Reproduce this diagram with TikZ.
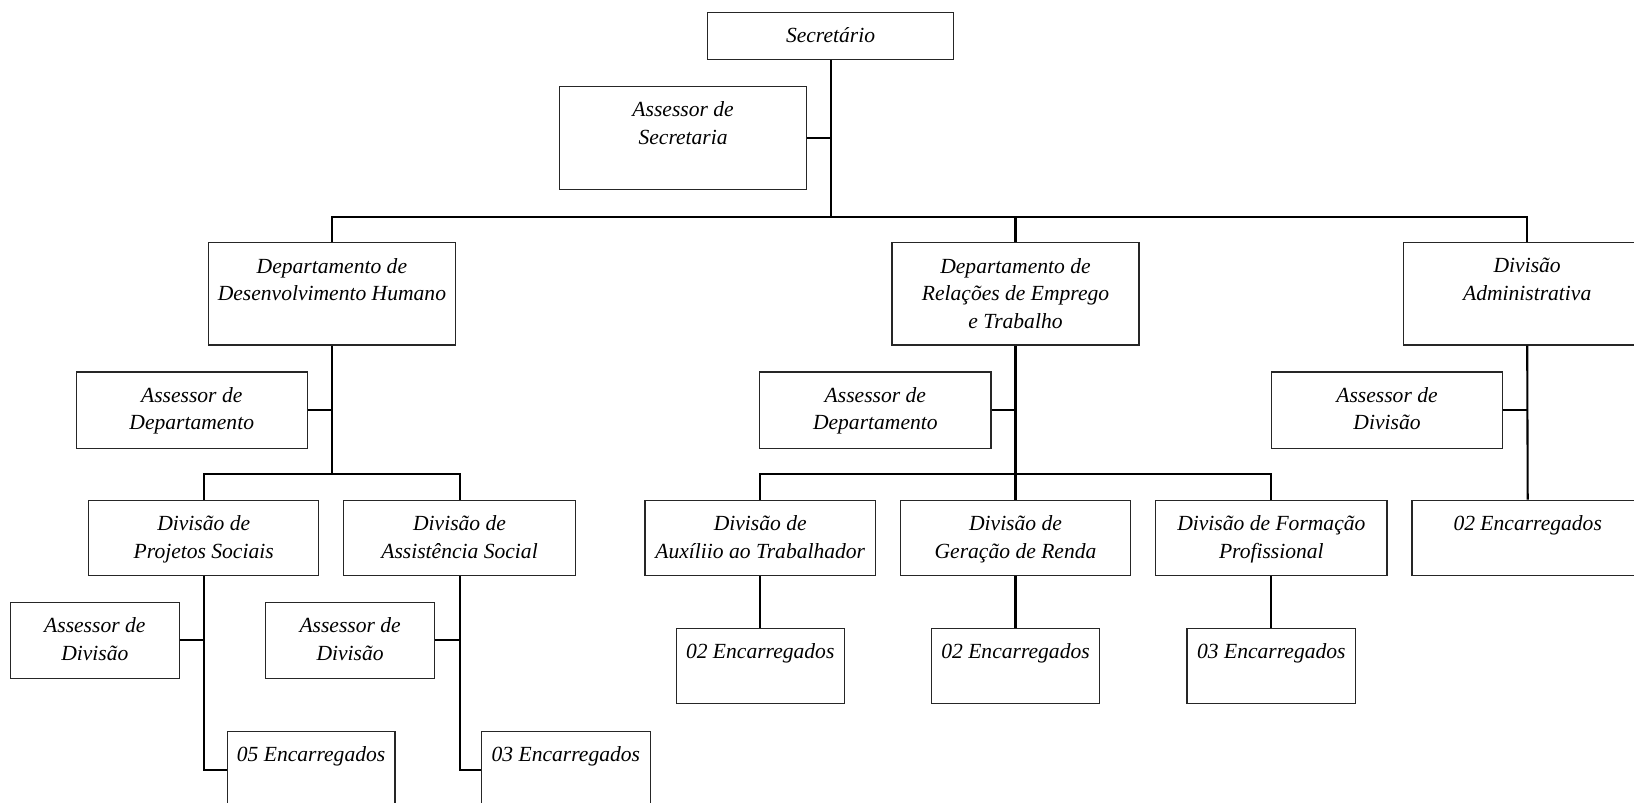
\documentclass[tikz,border=0pt]{standalone}
\usepackage{fontspec}
\setmainfont{Liberation Serif}
\begin{document}
\begin{tikzpicture}[x=1pt,y=1pt,
  box/.style={draw=black!85, line width=1.1pt, rectangle, inner sep=0pt},
  conn/.style={draw=black, line width=2pt},
  lab/.style={anchor=north, yshift=-15pt, align=center, inner sep=0pt, font=\fontsize{20.7}{26.5}\selectfont\itshape}
]
\useasboundingbox (0,0) rectangle (1568,-770);
\clip (0,0) rectangle (1568,-770);
\newcommand\bx[6]{\node[box, minimum width=#4pt, minimum height=#5pt, label={[lab]north:{#6}}] (#1) at (#2,-#3) {};}
% level 0
\bx{sec}{797}{34.5}{236}{45}{Secretário}
\bx{asec}{655.5}{132.5}{237}{99}{Assessor de\\Secretaria}
% level 1
\bx{ddh}{318.5}{282}{237}{98}{Departamento de\\Desenvolvimento Humano}
\bx{dret}{974.5}{282}{237}{98}{Departamento de\\Relações de Emprego\\e Trabalho}
\bx{da}{1465.5}{282}{237}{98}{Divisão\\Administrativa}
% assessors of level 1
\bx{addh}{184}{393.5}{222}{73}{Assessor de\\Departamento}
\bx{adret}{840}{393.5}{222}{73}{Assessor de\\Departamento}
\bx{ada}{1331}{393.5}{222}{73}{Assessor de\\Divisão}
% level 2
\bx{dps}{195.5}{516}{221}{72}{Divisão de\\Projetos Sociais}
\bx{das}{441}{516}{222}{72}{Divisão de\\Assistência Social}
\bx{dat}{729.5}{516}{221}{72}{Divisão de\\Auxíliio ao Trabalhador}
\bx{dgr}{974.5}{516}{221}{72}{Divisão de\\Geração de Renda}
\bx{dfp}{1220}{516}{222}{72}{Divisão de Formação\\Profissional}
\bx{daenc}{1466}{516}{222}{72}{02 Encarregados}
% assessors of level 2
\bx{adps}{91}{614.5}{162}{73}{Assessor de\\Divisão}
\bx{adas}{336}{614.5}{162}{73}{Assessor de\\Divisão}
% encarregados
\bx{e05}{298.5}{738.5}{161}{73}{05 Encarregados}
\bx{e03}{543}{738.5}{162}{73}{03 Encarregados}
\bx{e1}{729.5}{639}{161}{72}{02 Encarregados}
\bx{e2}{974.5}{639}{161}{72}{02 Encarregados}
\bx{e3}{1220}{639}{162}{72}{03 Encarregados}
% junction coordinates
\coordinate (bus0) at (797,-208);
\coordinate (bus1) at (0,-455);
% connectors level 0
\draw[conn] (sec.south) -- (bus0);
\draw[conn] (asec.east) -- (asec.east -| sec.south);
\draw[conn] (ddh.north) |- (bus0) -| (da.north);
\draw[conn] (dret.north) -- (dret.north |- bus0);
% DDH
\draw[conn] (ddh.south) -- (ddh.south |- bus1);
\draw[conn] (addh.east) -- (addh.east -| ddh.south);
\draw[conn] (dps.north) |- (ddh.south |- bus1) -| (das.north);
\draw[conn] (dps.south) |- (e05.west);
\draw[conn] (adps.east) -- (adps.east -| dps.south);
\draw[conn] (das.south) |- (e03.west);
\draw[conn] (adas.east) -- (adas.east -| das.south);
% DRET
\draw[conn] (dret.south) -- (dret.south |- bus1);
\draw[conn] (adret.east) -- (adret.east -| dret.south);
\draw[conn] (dat.north) |- (dret.south |- bus1) -| (dfp.north);
\draw[conn] (dgr.north) -- (dgr.north |- bus1);
\draw[conn] (dat.south) -- (e1.north);
\draw[conn] (dgr.south) -- (e2.north);
\draw[conn] (dfp.south) -- (e3.north);
% DA
\draw[conn] (da.south) -- (daenc.north);
\draw[conn] (ada.east) -- (ada.east -| da.south);
\end{tikzpicture}
\end{document}
